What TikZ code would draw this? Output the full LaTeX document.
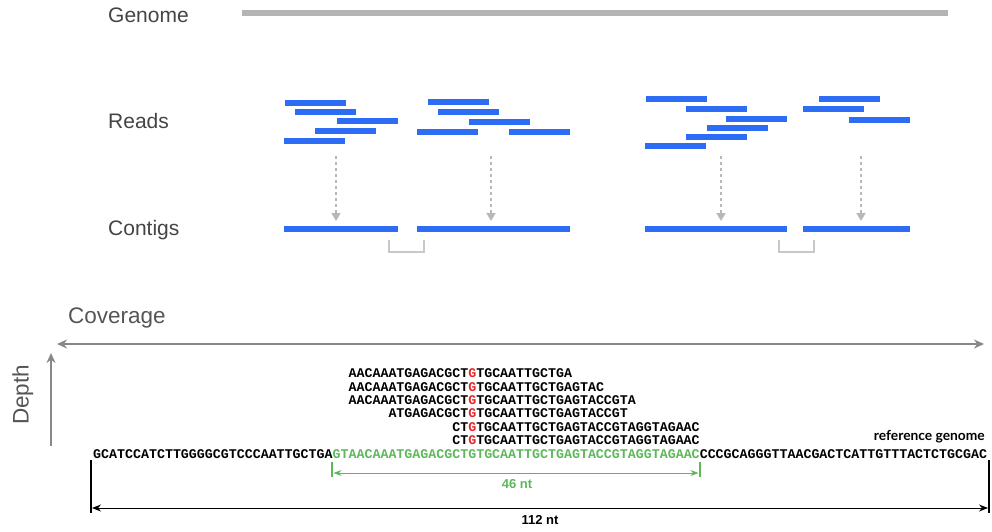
\documentclass[tikz,border=0pt]{standalone}
\usepackage{fontspec}
\setmainfont{Liberation Sans}
\newfontfamily\seqfont{Liberation Mono}
\newfontfamily\labfont{Lato}
\usetikzlibrary{arrows.meta}
\definecolor{barblue}{HTML}{2D6DF6}
\definecolor{genomegray}{HTML}{B4B4B4}
\definecolor{dashgray}{HTML}{B8B8B8}
\definecolor{brackgray}{HTML}{C8C8C8}
\definecolor{axisgray}{HTML}{888888}
\definecolor{labgray}{HTML}{444444}
\definecolor{covgray}{HTML}{555555}
\definecolor{seqgreen}{HTML}{5DB85A}
\definecolor{seqred}{HTML}{E8262A}
\newcommand\rg{\textcolor{seqred}{G}}
\begin{document}
\begin{tikzpicture}[x=1pt,y=-1pt,
  rowlabel/.style={anchor=base west,inner sep=0pt,text=labgray,font=\fontsize{21}{21}\selectfont},
  readbar/.style={fill=barblue},
  dasharrow/.style={draw=dashgray,line width=1.6pt,dash pattern=on 3pt off 3pt,-{Triangle[length=8pt,width=9pt]}},
  bracket/.style={draw=brackgray,line width=1.5pt},
  seq/.style={anchor=base west,inner sep=0pt,font=\seqfont\bfseries\fontsize{13.3}{13.3}\selectfont},
  axis/.style={draw=axisgray,line width=2pt},
  dimtick/.style={line width=2pt},
  dimlab/.style={inner sep=0pt,font=\bfseries\fontsize{13}{13}\selectfont}]
\useasboundingbox (0,0) rectangle (992,531);
% Row labels
\node[rowlabel] (genome) at (108,22) {Genome};
\node[rowlabel] (reads) at (108,128) {Reads};
\node[rowlabel] (contigs) at (108,235) {Contigs};
% Genome bar
\fill[genomegray] (242,10) rectangle (948,16);
% Reads
\foreach \a/\b/\y in {285/346/103, 295/356/112, 337/398/121, 315/376/131, 284/345/141,
  428/489/102, 438/499/112, 469/530/122, 417/478/132, 509/570/132,
  646/707/99, 686/747/109, 726/787/119, 707/768/128, 686/747/137, 645/706/146,
  819/880/99, 803/864/109, 849/910/120}
  \fill[readbar] (\a,\y-3) rectangle (\b,\y+3);
% Contigs
\foreach \a/\b in {284/398, 417/570, 645/787, 803/910}
  \fill[readbar] (\a,226) rectangle (\b,232);
% Dashed arrows
\foreach \x/\n in {336/a, 491/b, 721/c, 861/d}{
  \coordinate (s\n) at (\x,156);
  \coordinate (e\n) at (\x,221);
  \draw[dasharrow] (s\n) -- (e\n);
}
% Brackets
\draw[bracket] (389,240) -- (389,252) -- (424,252) -- (424,240);
\draw[bracket] (779,240) -- (779,252) -- (814,252) -- (814,240);
% Coverage & depth
\node[anchor=base west,inner sep=0pt,text=covgray,font=\fontsize{22.5}{22.5}\selectfont] (coverage) at (68,323) {Coverage};
\coordinate (covL) at (57,344);
\coordinate (covR) at (984,344);
\draw[axis,{Stealth[length=10pt,width=9pt]}-{Stealth[length=10pt,width=9pt]}] (covL) -- (covR);
\node[anchor=base west,inner sep=0pt,rotate=90,text=covgray,font=\fontsize{22.5}{22.5}\selectfont] (depth) at (28.5,425) {Depth};
\coordinate (depB) at (51,446);
\coordinate (depT) at (51,353);
\draw[axis,-{Stealth[length=10pt,width=9pt]}] (depB) -- (depT);
% Reads text
\node[seq] (r1) at (348.4,377.6) {AACAAATGAGACGCT\rg TGCAATTGCTGA};
\node[seq] (r2) at (348.4,391.0) {AACAAATGAGACGCT\rg TGCAATTGCTGAGTAC};
\node[seq] (r3) at (348.4,404.4) {AACAAATGAGACGCT\rg TGCAATTGCTGAGTACCGTA};
\node[seq] (r4) at (388.3,417.8) {ATGAGACGCT\rg TGCAATTGCTGAGTACCGT};
\node[seq] (r5) at (452.1,431.2) {CT\rg TGCAATTGCTGAGTACCGTAGGTAGAAC};
\node[seq] (r6) at (452.1,444.6) {CT\rg TGCAATTGCTGAGTACCGTAGGTAGAAC};
\node[seq] (ref) at (93,458) {GCATCCATCTTGGGGCGTCCCAATTGCTGA\textcolor{seqgreen}{GTAACAAATGAGACGCTGTGCAATTGCTGAGTACCGTAGGTAGAAC}CCCGCAGGGTTAACGACTCATTGTTTACTCTGCGAC};
\node[anchor=base east,inner sep=0pt,font=\labfont\bfseries\fontsize{13.8}{13.8}\selectfont] (reflab) at (985,440.5) {reference genome};
% 46 nt dimension
\coordinate (g1t) at (332.4,462); \coordinate (g1b) at (332.4,477);
\coordinate (g2t) at (699.5,462); \coordinate (g2b) at (699.5,477);
\draw[seqgreen,dimtick] (g1t) -- (g1b);
\draw[seqgreen,dimtick] (g2t) -- (g2b);
\coordinate (g1) at (333.5,473); \coordinate (g2) at (698.5,473);
\draw[seqgreen,line width=1pt,{Stealth[length=8pt,width=6pt]}-{Stealth[length=8pt,width=6pt]}] (g1) -- (g2);
\node[dimlab,text=seqgreen] (n46) at (517,484) {46 nt};
% 112 nt dimension
\coordinate (b1t) at (91,460); \coordinate (b1b) at (91,513);
\coordinate (b2t) at (989,460); \coordinate (b2b) at (989,513);
\draw[black,dimtick] (b1t) -- (b1b);
\draw[black,dimtick] (b2t) -- (b2b);
\coordinate (b1) at (92,508); \coordinate (b2) at (988,508);
\draw[black,line width=1pt,{Stealth[length=9pt,width=7pt]}-{Stealth[length=9pt,width=7pt]}] (b1) -- (b2);
\node[dimlab,text=black] (n112) at (540,520.5) {112 nt};
\end{tikzpicture}
\end{document}
